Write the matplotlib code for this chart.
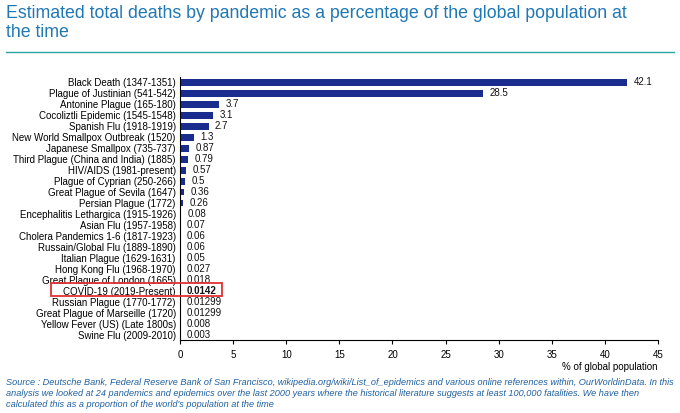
import matplotlib.pyplot as plt
from matplotlib.patches import Rectangle

pandemics = [
    "Black Death (1347-1351)", "Plague of Justinian (541-542)", "Antonine Plague (165-180)",
    "Cocoliztli Epidemic (1545-1548)", "Spanish Flu (1918-1919)", "New World Smallpox Outbreak (1520)",
    "Japanese Smallpox (735-737)", "Third Plague (China and India) (1885)", "HIV/AIDS (1981-present)",
    "Plague of Cyprian (250-266)", "Great Plague of Sevila (1647)", "Persian Plague (1772)",
    "Encephalitis Lethargica (1915-1926)", "Asian Flu (1957-1958)", "Cholera Pandemics 1-6 (1817-1923)",
    "Russain/Global Flu (1889-1890)", "Italian Plague (1629-1631)", "Hong Kong Flu (1968-1970)",
    "Great Plague of London (1665)", "COVID-19 (2019-Present)", "Russian Plague (1770-1772)",
    "Great Plague of Marseille (1720)", "Yellow Fever (US) (Late 1800s)", "Swine Flu (2009-2010)",
]
values = [42.1, 28.5, 3.7, 3.1, 2.7, 1.3, 0.87, 0.79, 0.57, 0.5, 0.36, 0.26,
          0.08, 0.07, 0.06, 0.06, 0.05, 0.027, 0.018, 0.0142, 0.01299, 0.01299, 0.008, 0.003]
value_labels = ["42.1", "28.5", "3.7", "3.1", "2.7", "1.3", "0.87", "0.79", "0.57", "0.5", "0.36",
                "0.26", "0.08", "0.07", "0.06", "0.06", "0.05", "0.027", "0.018", "0.0142",
                "0.01299", "0.01299", "0.008", "0.003"]
highlight = "COVID-19 (2019-Present)"

plt.rcParams['font.family'] = ['Liberation Sans', 'DejaVu Sans']
fig = plt.figure(figsize=(6.8, 4.13), dpi=100)
ax = fig.add_axes([180 / 680, 1 - 340 / 413, (658 - 180) / 680, (340 - 77) / 413])

y = list(range(len(pandemics)))
ax.barh(y, values, height=0.62, color='#1a2d8f')
for i, (v, lab) in enumerate(zip(values, value_labels)):
    bold = pandemics[i] == highlight
    ax.text(v + 0.6, i, lab, va='center', ha='left', fontsize=7,
            fontweight='bold' if bold else 'normal', color='#111111')

ax.set_ylim(len(pandemics) - 0.5, -0.5)
ax.set_xlim(0, 45)
ax.set_yticks(y)
ax.set_yticklabels(pandemics, fontsize=7)
ax.set_xticks(range(0, 46, 5))
ax.tick_params(axis='x', labelsize=7, length=3, pad=4)
ax.tick_params(axis='y', length=0, pad=3)
for s in ['top', 'right']:
    ax.spines[s].set_visible(False)
ax.spines['left'].set_linewidth(0.8)
ax.spines['bottom'].set_linewidth(0.8)

# red box around COVID row
fig.patches.append(Rectangle((51 / 680, 1 - 296 / 413), (222 - 51) / 680, 13 / 413,
                             transform=fig.transFigure, fill=False, edgecolor='#e03030', lw=1.3))

fig.text(6 / 680, 1 - 5 / 413, "Estimated total deaths by pandemic as a percentage of the global population at\nthe time",
         fontsize=12.8, color='#1f77b4', va='top', ha='left', linespacing=1.15)
fig.add_artist(plt.Line2D([6 / 680, 674 / 680], [1 - 52 / 413, 1 - 52 / 413],
                          transform=fig.transFigure, color='#2aa7a0', lw=1))
fig.text(658 / 680, 1 - 367 / 413, "% of global population", fontsize=7, ha='right', va='center')
fig.text(6 / 680, 1 - 378 / 413,
         "Source : Deutsche Bank, Federal Reserve Bank of San Francisco, wikipedia.org/wiki/List_of_epidemics and various online references within, OurWorldinData. In this\n"
         "analysis we looked at 24 pandemics and epidemics over the last 2000 years where the historical literature suggests at least 100,000 fatalities. We have then\n"
         "calculated this as a proportion of the world's population at the time",
         fontsize=6.6, style='italic', color='#1f5fa0', va='top', ha='left', linespacing=1.3)

fig.savefig("out.png", dpi=100)
